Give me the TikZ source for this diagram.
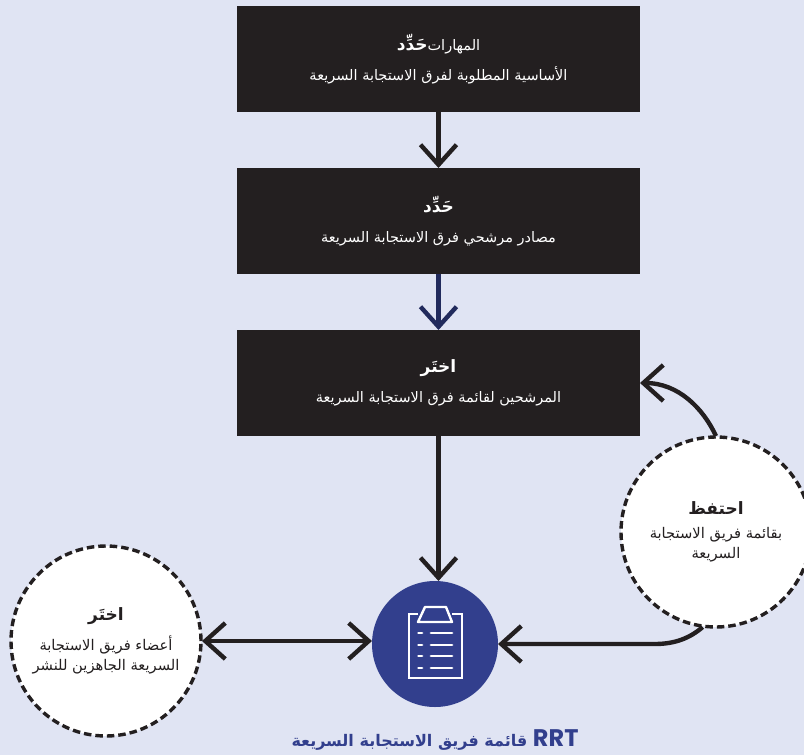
\documentclass[tikz,border=0pt]{standalone}
\usepackage{fontspec}
\setmainfont[Script=Arabic]{DejaVu Sans}
\newfontfamily\latinbold{Poppins}
\TeXXeTstate=1
\usetikzlibrary{arrows.meta}
\definecolor{bg}{RGB}{224,228,243}
\definecolor{ink}{RGB}{35,31,32}
\definecolor{navy}{RGB}{33,42,92}
\definecolor{hubblue}{RGB}{50,63,141}
\newcommand{\arl}[1]{\beginR #1\endR}
\newcommand{\hd}[1]{{\fontsize{17}{19}\selectfont\bfseries\beginR #1\endR}}
\tikzset{
  darkbox/.style={draw=none,fill=ink,text=white,minimum width=403pt,minimum height=106pt,inner sep=0pt,outer sep=0pt,align=center,font=\fontsize{14.5}{18}\selectfont},
  dashcircle/.style={circle,draw=ink,fill=white,line width=3.4pt,dash pattern=on 7.5pt off 4pt,minimum size=190pt,inner sep=0pt,outer sep=1pt,align=center,text=ink,font=\fontsize{14.7}{20}\selectfont},
  hubnode/.style={circle,fill=hubblue,minimum size=126pt,inner sep=0pt,outer sep=0pt},
  conn/.style={line width=4.4pt,draw=ink},
  tip/.tip={Straight Barb[length=20pt,width=36pt,line width=4.4pt]},
  icon/.style={draw=white,line width=2.4pt},
  iconrow/.style={draw=white,line width=2.8pt,line cap=round}
}
\begin{document}
\begin{tikzpicture}[x=1pt,y=-1pt]
\useasboundingbox (0,0) rectangle (804,755);
\fill[bg] (0,0) rectangle (804,755);
\clip (0,0) rectangle (804,755);
\node[darkbox] (b1) at (438.5,59) {{\fontsize{17}{19}\selectfont\bfseries\beginR حَدِّد\endR}\beginR المهارات\endR\\[12pt]\arl{الأساسية المطلوبة لفرق الاستجابة السريعة}};
\node[darkbox] (b2) at (438.5,221) {\hd{حَدِّد}\\[12pt]\arl{مصادر مرشحي فرق الاستجابة السريعة}};
\node[darkbox] (b3) at (438.5,383) {\hd{اختَر}\\[12pt]\arl{المرشحين لقائمة فرق الاستجابة السريعة}};
\node[hubnode] (hub) at (435,644) {};
\node[dashcircle] (pick) at (106,641) {\hd{اختَر}\\[10pt]\arl{أعضاء فريق الاستجابة}\\\arl{السريعة الجاهزين للنشر}};
\node[dashcircle] (keep) at (716,532) {\hd{احتفظ}\\[4pt]\arl{بقائمة فريق الاستجابة}\\\arl{السريعة}};
\node[text=hubblue,font=\fontsize{16}{18}\selectfont\bfseries] (cap) at (435,740) {\beginR\beginL{\latinbold\fontsize{24}{18}\selectfont RRT}\endL{} قائمة فريق الاستجابة السريعة\endR};
% clipboard icon
\draw[icon] (418,614) -- (409,614) -- (409,678) -- (462,678) -- (462,614) -- (452,614);
\draw[icon,line join=round] (418,622) -- (425,607) -- (446,607) -- (452,622) -- cycle;
\foreach \yy in {633,645,656,668}{
  \draw[iconrow] (418.5,\yy) -- (422,\yy);
  \draw[iconrow] (431,\yy) -- (452,\yy);
}
% connectors
\draw[conn,-{tip}] (b1.south) -- (b2.north);
\draw[conn,navy,-{tip}] (b2.south) -- (b3.north);
\draw[conn,-{tip}] (b3.south) -- (b3.south |- hub.north);
\draw[conn,{tip}-{tip}] (pick.east) -- (pick.east -| hub.west);
\draw[conn,-{tip}] (keep.262) .. controls (690,638) and (675,644) .. (655,644) -- (hub.east);
\draw[conn,-{tip}] (keep.north) .. controls (703,408) and (678,383) .. (b3.east);
\end{tikzpicture}
\end{document}
